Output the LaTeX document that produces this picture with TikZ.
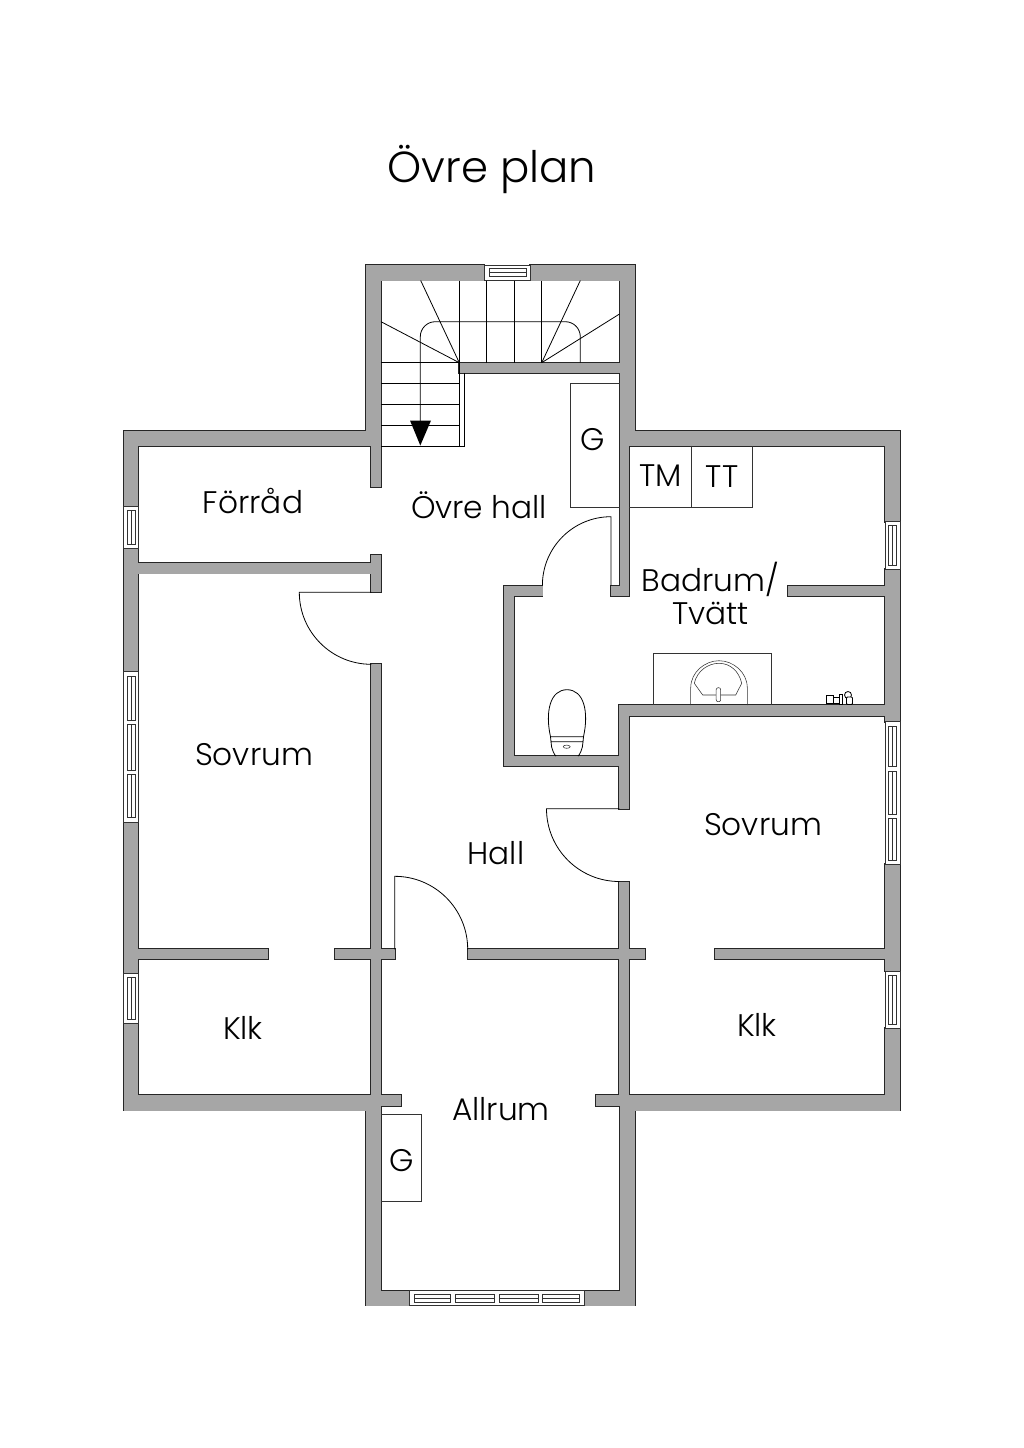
\documentclass[tikz,border=0pt]{standalone}
\usepackage{fontspec}
\setmainfont{Poppins}[UprightFont=* Light]
\definecolor{wallgray}{HTML}{A6A6A6}

% Parts of a window sash, across a wall 15 wide
\newcommand{\sashv}[3]{%
	\draw[fixture] (#1+3.3,#2) rectangle (#1+11.7,#3);
	\draw[fixture] (#1+7.5,#2) -- (#1+7.5,#3);
}
\newcommand{\sashh}[3]{%
	\draw[fixture] (#1,#3+3.3) rectangle (#2,#3+11.7);
	\draw[fixture] (#1,#3+7.5) -- (#2,#3+7.5);
}

\tikzset{
	wallline/.style={draw=black!85,line width=1.7pt},
	wallfill/.style={fill=wallgray},
	fixture/.style={draw=black!80,line width=0.55pt},
	tread/.style={draw=black,line width=0.8pt},
	doorline/.style={draw=black,line width=0.8pt},
	room/.style={font=\fontsize{31.2}{33}\selectfont,inner sep=0pt,align=center},
	titletext/.style={font=\fontsize{43.4}{52}\selectfont,inner sep=0pt},
}

\begin{document}
\begin{tikzpicture}[x=1pt,y=-1pt]
	\useasboundingbox (0,0) rectangle (1024,1448);
	\fill[white] (0,0) rectangle (1024,1448);

	% Wall pieces: x1/y1/x2/y2
	\def\walls{366/265/484.3/280.5, 530.3/265/635/280.5, 366/265/381/445.7, 371/431/381/486.7,
		619.5/265/635/431, 123.5/431/381/445.7, 619.5/431/900/445.7, 459.3/362.7/619.5/372.7,
		619.5/431/629.3/596, 611/585.5/629.3/596,
		123.5/431/138.3/506, 123.5/548.7/138.3/671.7, 123.5/822.7/138.3/973, 123.5/1023/138.3/1110.5,
		885/431/900/521.7, 885/569/900/721.7, 885/864.3/900/971, 885/1028.3/900/1110.5,
		123.5/1095/381/1110.5, 366/1095/401/1105.7, 366/1095/381/1305.5,
		596/1095/635/1105.7, 619.5/1095/900/1110.5, 619.5/1095/635/1305.5,
		366/1290.5/409.5/1305.5, 584/1290.5/635/1305.5,
		138/563/371/573.5, 371.3/555/381.3/592.3, 371.3/664/381.3/1095,
		138/949.3/268/959.3, 335/949.3/394.7/959.3, 467.7/949.3/645/959.3, 715/949.3/885/959.3,
		619.3/881.7/629.3/1095, 619.3/705/629.3/808.7, 619.3/705/885/715.7,
		504/756/619.3/766, 504/585.5/514/766, 504/585.5/542.5/596, 788/585.5/885/596}

	% Outline first, fill over it, so that pieces merge
	\foreach \xa/\ya/\xb/\yb in \walls {
		\draw[wallline] (\xa,\ya) rectangle (\xb,\yb);
	}
	\foreach \xa/\ya/\xb/\yb in \walls {
		\fill[wallfill] (\xa,\ya) rectangle (\xb,\yb);
	}

	% Windows, left wall
	\foreach \ya/\yb in {506/548.7, 671.7/822.7, 973/1023} {
		\draw[fixture,fill=white] (123.5,\ya) rectangle (138.3,\yb);
	}
	\foreach \ya/\yb in {510.7/544, 676/720.5, 724.5/770, 774.3/817.5, 977.3/1019.3} {
		\sashv{123.5}{\ya}{\yb}
	}
	% Windows, right wall
	\foreach \ya/\yb in {521.7/569, 721.7/864.3, 971/1028.3} {
		\draw[fixture,fill=white] (885,\ya) rectangle (900,\yb);
	}
	\foreach \ya/\yb in {525.5/565, 726/766.7, 771/814, 818.3/860, 975/1024} {
		\sashv{885}{\ya}{\yb}
	}
	% Windows, top and bottom
	\draw[fixture,fill=white] (484.3,265) rectangle (530.3,280.5);
	\sashh{489.3}{526}{265}
	\draw[fixture,fill=white] (409.5,1290.5) rectangle (584,1305.5);
	\foreach \xa/\xb in {414/450.7, 455/494, 499/538, 542.5/579} {
		\sashh{\xa}{\xb}{1290.5}
	}

	% Stairs, upper run
	\foreach \xa in {459.3,486.7,514,541.7} {
		\draw[tread] (\xa,280.5) -- (\xa,362.7);
	}
	\draw[tread] (459.3,362.7) -- (420.7,280.5);
	\draw[tread] (459.3,362.7) -- (381,321.7);
	\draw[tread] (541.7,362.7) -- (580.3,280.5);
	\draw[tread] (541.7,362.7) -- (619.5,314);
	% Stairs, lower run
	\foreach \ya in {362.7,383.7,404.3,425,446} {
		\draw[tread] (381,\ya) -- (459.3,\ya);
	}
	\draw[tread] (459.3,362.7) -- (459.3,446) -- (464.5,446) -- (464.5,372.7);
	% Handrail and arrow
	\draw[tread,rounded corners=15pt] (420.3,440) -- (420.3,321.7) -- (580.3,321.7) -- (580.3,362.7);
	\fill[black] (410,420.5) -- (431,420.5) -- (420.3,445.5) -- cycle;

	% Closets
	\draw[fixture] (619.5,383) -- (570,383) -- (570,507) -- (619.5,507);
	\draw[fixture] (381,1114.3) -- (421.7,1114.3) -- (421.7,1201.7) -- (381,1201.7);
	\draw[fixture] (629.3,507.3) -- (752.7,507.3) -- (752.7,445.7);
	\draw[fixture] (691.3,445.7) -- (691.3,507.3);

	% Doors
	\draw[doorline] (371.3,592.3) -- (299.3,592.3) arc[start angle=180,end angle=270,radius=72pt];
	\draw[doorline] (611,585.5) -- (611,516.7) arc[start angle=90,end angle=180,radius=68.6pt];
	\draw[doorline] (394.7,949.3) -- (394.7,876.3) arc[start angle=90,end angle=0,radius=73pt];
	\draw[doorline] (619.3,808.7) -- (546.5,808.7) arc[start angle=180,end angle=270,radius=72.8pt];

	% Sink
	\draw[fixture] (653,705) -- (653,653) -- (771,653) -- (771,705);
	\draw[fixture] (690.7,705) -- (690.7,688) .. controls (690.7,672) and (705,660.7) .. (719,660.7)
		.. controls (733,660.7) and (747.3,672) .. (747.3,688) -- (747.3,705);
	\draw[fixture] (702.7,695) -- (694.3,683.3) .. controls (697,671) and (708,663.3) .. (719,663.3)
		.. controls (730,663.3) and (739,671) .. (741.7,683.3) -- (735.7,695) -- cycle;
	\draw[fixture,fill=white,rounded corners=2pt] (716.2,687.7) rectangle (720.7,701.7);

	% Toilet
	\draw[tread] (550.5,736.7) .. controls (545,712) and (550,689.7) .. (567,689.7)
		.. controls (584,689.7) and (589,712) .. (583.5,736.7) -- cycle;
	\draw[tread] (551,741.7) .. controls (551,749) and (555,756) .. (556,756)
		(578,756) .. controls (579,756) and (583,749) .. (583,741.7);
	\draw[tread] (550.5,736.7) -- (551,741.7) -- (583,741.7) -- (583.5,736.7);
	\draw[fixture] (566.7,746.7) ellipse (3.5pt and 1.6pt);

	% Taps
	\draw[tread,fill=white] (826,695.5) rectangle (833,703.5);
	\draw[tread,fill=white] (833,697.5) rectangle (839,703.5);
	\draw[tread,fill=white] (839,694) rectangle (842.5,704);
	\draw[tread,fill=white] (848,695) circle (3.5pt);
	\draw[tread,fill=white,rounded corners=1pt] (846.5,697) rectangle (852.5,704.5);

	% Labels
	\node[titletext] (title) at (492,169) {Övre plan};
	\node[room] (forrad) at (253,501) {Förråd};
	\node[room] (ovrehall) at (479,505) {Övre hall};
	\node[room] (badrum) at (710.5,593) {Badrum/\\Tvätt};
	\node[room] (tm) at (661,476) {TM};
	\node[room] (tt) at (722,477) {TT};
	\node[room] (goupper) at (593,440) {G};
	\node[room] (golower) at (402,1161) {G};
	\node[room] (sovrumleft) at (254,755) {Sovrum};
	\node[room] (sovrumright) at (763,825) {Sovrum};
	\node[room] (hall) at (496,853) {Hall};
	\node[room] (klkleft) at (243,1028) {Klk};
	\node[room] (klkright) at (757,1025) {Klk};
	\node[room] (allrum) at (501,1109) {Allrum};
\end{tikzpicture}
\end{document}
